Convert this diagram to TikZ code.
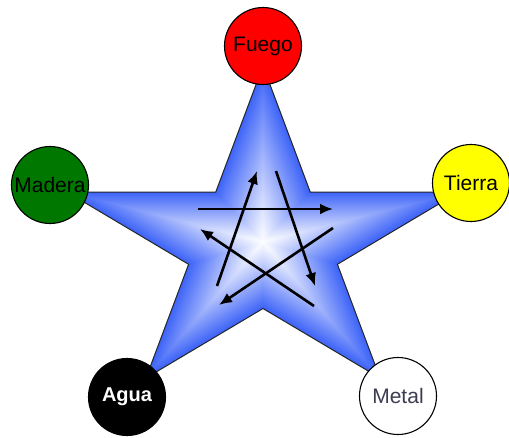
\documentclass[tikz,border=0pt]{standalone}
\usepackage{fontspec}
\setmainfont{Liberation Sans}
\usetikzlibrary{arrows.meta}
\definecolor{starblue}{RGB}{62,100,248}
\definecolor{fuegored}{RGB}{255,0,0}
\definecolor{maderagreen}{RGB}{0,120,0}
\definecolor{tierrayellow}{RGB}{255,255,0}
\definecolor{metaltext}{RGB}{60,60,80}
\newcommand\starshape{(263,66) -- (310.25,192) -- (459,192) -- (337.4,264.3) -- (380,378) -- (263,308.5) -- (146,378) -- (188.6,264.3) -- (67,192) -- (215.75,192) -- cycle}
\begin{document}
\begin{tikzpicture}[x=1pt,y=-1pt,
  element/.style={circle,draw=black,line width=1.1pt,minimum size=77pt,inner sep=0pt,font=\fontsize{21}{25}\selectfont},
  cyclearrow/.style={line width=2.6pt,-{Latex[length=13pt,width=11pt]}}]
\useasboundingbox (0,0) rectangle (509,437);
% star with burst shading
\fill[starblue] \starshape;
\foreach \i in {1,...,60} {
  \pgfmathsetmacro\sclf{1-\i/60}
  \pgfmathsetmacro\bamt{100*\sclf^1.05}
  \fill[starblue!\bamt!white, scale around={\sclf:(263,242)}] \starshape;
}
\draw[black!85,line width=1pt] \starshape;
% elements
\node[element,fill=fuegored] (fuego) at (263,46) {Fuego};
\node[element,fill=maderagreen] (madera) at (50,185) {Madera};
\node[element,fill=tierrayellow] (tierra) at (471,183) {Tierra};
\node[element,fill=black,text=white,font=\fontsize{20}{24}\selectfont\bfseries] (agua) at (127,397) {Agua};
\node[element,fill=white,text=metaltext] (metal) at (398,396) {Metal};
% arrows
\coordinate (a1s) at (198,209);
\coordinate (a1e) at (333,209);
\coordinate (a2s) at (333,228);
\coordinate (a2e) at (219,305);
\coordinate (a3s) at (314,306);
\coordinate (a3e) at (200,229);
\coordinate (a4s) at (217,286);
\coordinate (a4e) at (257,171);
\coordinate (a5s) at (276,171);
\coordinate (a5e) at (315,286);
\draw[cyclearrow] (a1s) -- (a1e);
\draw[cyclearrow] (a2s) -- (a2e);
\draw[cyclearrow] (a3s) -- (a3e);
\draw[cyclearrow] (a4s) -- (a4e);
\draw[cyclearrow] (a5s) -- (a5e);
\end{tikzpicture}
\end{document}
